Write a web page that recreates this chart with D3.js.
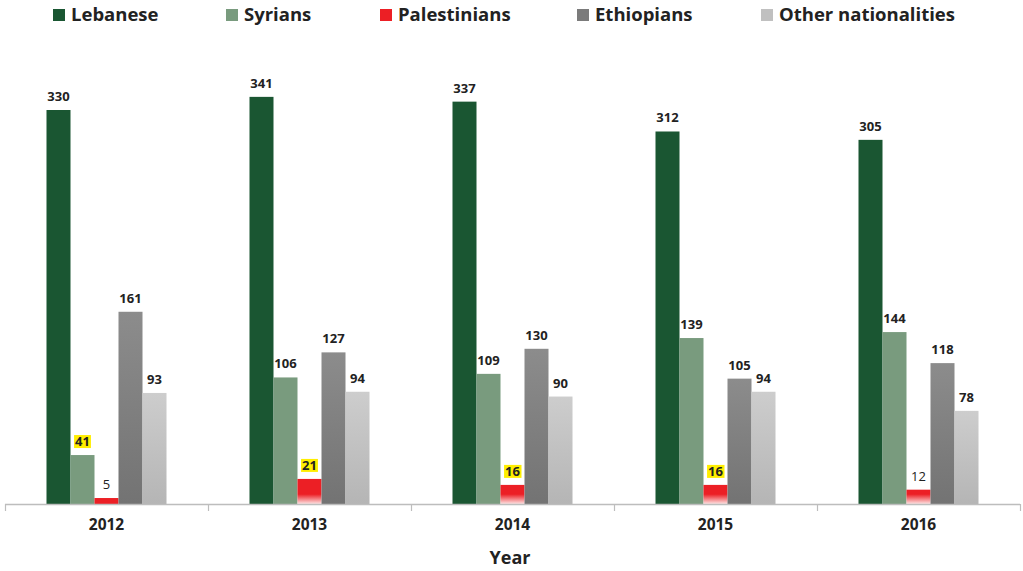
<!DOCTYPE html>
<html>
<head>
<meta charset="utf-8">
<script src="https://cdn.jsdelivr.net/npm/d3@7/dist/d3.min.js"></script>
<style>
  html, body { margin: 0; padding: 0; background: #fff; }
  svg { display: block; font-family: "Open Sans", "Noto Sans", sans-serif; }
</style>
</head>
<body>
<svg id="chart" width="1023" height="571"></svg>
<script>
const years = ["2012", "2013", "2014", "2015", "2016"];
const seriesNames = ["Lebanese", "Syrians", "Palestinians", "Ethiopians", "Other nationalities"];
const lebanese = [330, 341, 337, 312, 305];
const syrians = [41, 106, 109, 139, 144];
const palestinians = [5, 21, 16, 16, 12];
const ethiopians = [161, 127, 130, 105, 118];
const others = [93, 94, 90, 94, 78];
const seriesValues = [lebanese, syrians, palestinians, ethiopians, others];
// labels drawn with a yellow highlight: [series, year]
const highlighted = [["Syrians", "2012"], ["Palestinians", "2013"], ["Palestinians", "2014"], ["Palestinians", "2015"]];
// labels drawn in normal weight
const plainLabels = [["Palestinians", "2012"], ["Palestinians", "2016"]];
const axisTitle = "Year";

const svg = d3.select("#chart");
const baseline = 504;

const x0 = d3.scaleBand().domain(years).range([5, 1020]).paddingInner(0).paddingOuter(0);
const x1 = d3.scaleBand().domain(seriesNames).range([0, x0.bandwidth()]).paddingInner(0).paddingOuter(1.729);
const y = d3.scaleLinear().domain([0, 330]).range([baseline, 110]);

const defs = svg.append("defs");
function vgrad(id, stops, user) {
  const g = defs.append("linearGradient").attr("id", id)
    .attr("x1", 0).attr("x2", 0);
  if (user) {
    g.attr("gradientUnits", "userSpaceOnUse").attr("y1", user[0]).attr("y2", user[1]);
  } else {
    g.attr("y1", 0).attr("y2", 1);
  }
  stops.forEach(s => g.append("stop").attr("offset", s[0]).attr("stop-color", s[1]));
}
vgrad("gPal", [[0, "#ec1f25"], [0.3, "#ec1f25"], [1, "#fde4e4"]], [490, baseline]);
vgrad("gEth", [[0, "#8c8c8c"], [1, "#737373"]]);
vgrad("gOth", [[0, "#cdcdcd"], [1, "#b5b5b5"]]);

const fills = {
  "Lebanese": "#1a5632",
  "Syrians": "#799b7e",
  "Palestinians": "url(#gPal)",
  "Ethiopians": "url(#gEth)",
  "Other nationalities": "url(#gOth)"
};
const legendFills = {
  "Lebanese": "#1a5632",
  "Syrians": "#799b7e",
  "Palestinians": "#ec1f25",
  "Ethiopians": "#7b7b7b",
  "Other nationalities": "#c0c0c0"
};

const data = [];
years.forEach((yr, i) => {
  seriesNames.forEach((s, j) => {
    data.push({ year: yr, series: s, value: seriesValues[j][i] });
  });
});

// bars
svg.append("g").selectAll("rect").data(data).join("rect")
  .attr("x", d => x0(d.year) + x1(d.series))
  .attr("width", x1.bandwidth())
  .attr("y", d => y(d.value))
  .attr("height", d => baseline - y(d.value))
  .attr("fill", d => (d.series === "Palestinians" && baseline - y(d.value) < 10) ? "#ec1f25" : fills[d.series]);

// axis
const axisG = svg.append("g").attr("transform", `translate(0,${baseline})`);
axisG.append("line").attr("x1", 5).attr("x2", 1020).attr("y1", 0.5).attr("y2", 0.5)
  .attr("stroke", "#bdbdbd").attr("stroke-width", 1.5);
const bounds = years.map(d => x0(d)).concat([x0.range()[1]]);
axisG.selectAll("line.tick").data(bounds).join("line").attr("class", "tick")
  .attr("x1", d => Math.round(d) + 0.5).attr("x2", d => Math.round(d) + 0.5)
  .attr("y1", 0).attr("y2", 7).attr("stroke", "#bdbdbd").attr("stroke-width", 1.2);
axisG.selectAll("text.yr").data(years).join("text").attr("class", "yr")
  .attr("x", d => x0(d) + x0.bandwidth() / 2)
  .attr("y", 26)
  .attr("text-anchor", "middle")
  .attr("font-size", 15.5).attr("font-weight", "bold").attr("fill", "#222")
  .text(d => d);

svg.append("text").attr("x", 510).attr("y", 564).attr("text-anchor", "middle")
  .attr("font-size", 18).attr("font-weight", "bold").attr("fill", "#222").text(axisTitle);

// value labels
const isIn = (list, d) => list.some(p => p[0] === d.series && p[1] === d.year);
const labG = svg.append("g");
data.forEach(d => {
  const cx = x0(d.year) + x1(d.series) + x1.bandwidth() / 2;
  const ty = y(d.value) - 9;
  const bold = !isIn(plainLabels, d);
  const hl = isIn(highlighted, d);
  const bg = hl ? labG.append("rect").attr("fill", "#ffee00") : null;
  const t = labG.append("text").attr("x", cx).attr("y", ty)
    .attr("text-anchor", "middle")
    .attr("font-size", 13).attr("font-weight", bold ? "bold" : "normal")
    .attr("fill", "#222")
    .text(d.value);
  if (bg) {
    const b = t.node().getBBox();
    bg.attr("x", b.x - 1).attr("y", ty - 11).attr("width", b.width + 2).attr("height", 13);
  }
});

// legend
const legendX = [53, 226, 380, 577, 761];
const lg = svg.append("g");
seriesNames.forEach((s, i) => {
  lg.append("rect").attr("x", legendX[i]).attr("y", 9).attr("width", 12).attr("height", 12)
    .attr("fill", legendFills[s]);
  lg.append("text").attr("x", legendX[i] + 18).attr("y", 21)
    .attr("font-size", 18.5).attr("font-weight", "bold").attr("fill", "#222").text(s);
});
</script>
</body>
</html>
